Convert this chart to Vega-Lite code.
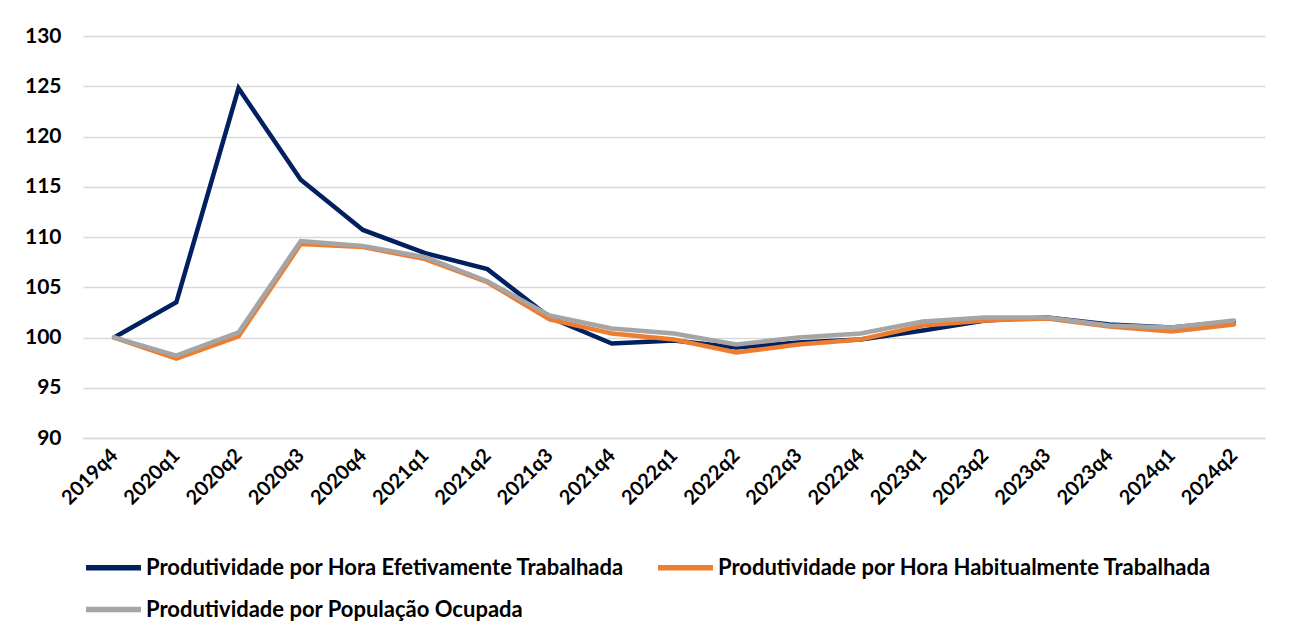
{
  "$schema": "https://vega.github.io/schema/vega-lite/v6.json",
  "width": 1182,
  "height": 402,
  "autosize": {"type": "none"},
  "padding": {"left": 83, "top": 36, "right": 28, "bottom": 206},
  "background": "white",
  "datasets": {
    "wide": [
      {"q": "2019q4", "ef": 100.0, "hab": 100.0, "pop": 100.0},
      {"q": "2020q1", "ef": 103.5, "hab": 97.9, "pop": 98.2},
      {"q": "2020q2", "ef": 124.8, "hab": 100.1, "pop": 100.5},
      {"q": "2020q3", "ef": 115.7, "hab": 109.3, "pop": 109.6},
      {"q": "2020q4", "ef": 110.7, "hab": 109.0, "pop": 109.1},
      {"q": "2021q1", "ef": 108.4, "hab": 107.8, "pop": 108.0},
      {"q": "2021q2", "ef": 106.8, "hab": 105.5, "pop": 105.6},
      {"q": "2021q3", "ef": 102.0, "hab": 101.8, "pop": 102.2},
      {"q": "2021q4", "ef": 99.4, "hab": 100.4, "pop": 100.9},
      {"q": "2022q1", "ef": 99.7, "hab": 99.8, "pop": 100.4},
      {"q": "2022q2", "ef": 99.0, "hab": 98.5, "pop": 99.3},
      {"q": "2022q3", "ef": 99.5, "hab": 99.3, "pop": 100.0},
      {"q": "2022q4", "ef": 99.8, "hab": 99.8, "pop": 100.4},
      {"q": "2023q1", "ef": 100.7, "hab": 101.2, "pop": 101.6},
      {"q": "2023q2", "ef": 101.7, "hab": 101.7, "pop": 102.0},
      {"q": "2023q3", "ef": 102.0, "hab": 101.9, "pop": 102.0},
      {"q": "2023q4", "ef": 101.3, "hab": 101.1, "pop": 101.2},
      {"q": "2024q1", "ef": 101.0, "hab": 100.6, "pop": 101.0},
      {"q": "2024q2", "ef": 101.6, "hab": 101.3, "pop": 101.7}
    ]
  },
  "data": {"name": "wide"},
  "transform": [
    {"fold": ["ef", "hab", "pop"], "as": ["key", "value"]},
    {"lookup": "key", "from": {"data": {"values": [
      {"key": "ef", "serie": "Produtividade por Hora Efetivamente Trabalhada"},
      {"key": "hab", "serie": "Produtividade por Hora Habitualmente Trabalhada"},
      {"key": "pop", "serie": "Produtividade por População Ocupada"}
    ]}, "key": "key", "fields": ["serie"]}}
  ],
  "mark": {"type": "line", "strokeWidth": 4.5, "strokeCap": "round"},
  "encoding": {
    "x": {
      "field": "q", "type": "ordinal", "sort": null,
      "scale": {"type": "point", "padding": 0.5},
      "axis": {
        "title": null, "labelAngle": -45, "labelAlign": "right", "labelBaseline": "middle",
        "labelFont": "Lato", "labelFontWeight": "bold", "labelFontSize": 20, "labelColor": "black",
        "labelPadding": 14,
        "ticks": false, "domain": true, "domainColor": "#d9d9d9", "domainWidth": 1.5,
        "grid": false
      }
    },
    "y": {
      "field": "value", "type": "quantitative",
      "scale": {"domain": [90, 130], "nice": false, "zero": false},
      "axis": {
        "title": null, "values": [90, 95, 100, 105, 110, 115, 120, 125, 130],
        "labelFont": "Lato", "labelFontWeight": "bold", "labelFontSize": 21, "labelColor": "black",
        "labelPadding": 22,
        "ticks": false, "domain": false, "grid": true, "gridColor": "#d9d9d9", "gridWidth": 1.5
      }
    },
    "color": {
      "field": "serie", "type": "nominal",
      "scale": {
        "domain": ["Produtividade por Hora Efetivamente Trabalhada", "Produtividade por Hora Habitualmente Trabalhada", "Produtividade por População Ocupada"],
        "range": ["#002060", "#ED7D31", "#A5A5A5"]
      },
      "legend": {
        "title": null, "orient": "none", "legendX": 0, "legendY": 501, "columns": 2,
        "direction": "horizontal",
        "symbolType": "stroke", "symbolSize": 3025, "symbolStrokeWidth": 5.5,
        "labelFont": "Lato", "labelFontWeight": "bold", "labelFontSize": 22, "labelColor": "black",
        "labelLimit": 700, "columnPadding": 22, "rowPadding": -12, "labelOffset": 2
      }
    }
  },
  "config": {"view": {"stroke": null}}
}
